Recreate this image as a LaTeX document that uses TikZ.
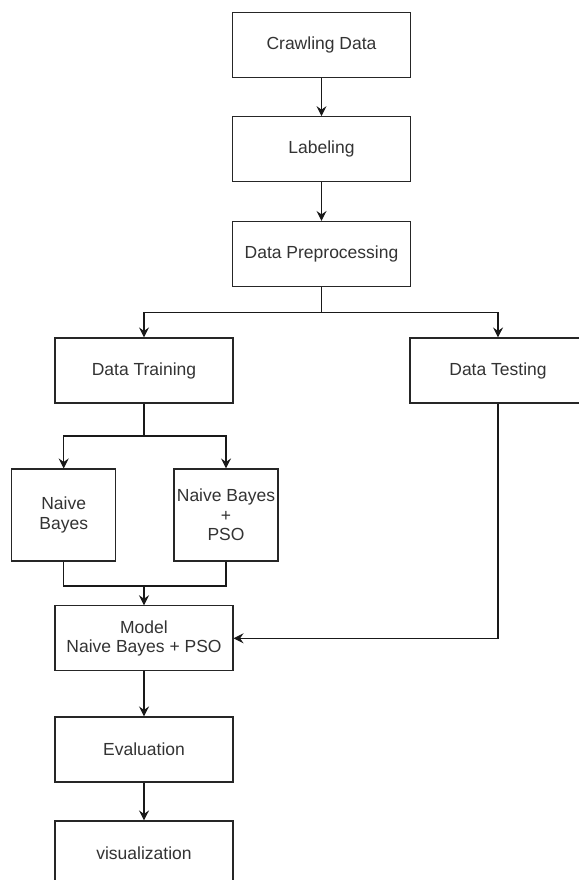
\documentclass[tikz,border=0pt]{standalone}
\usepackage{fontspec}
\setmainfont{Liberation Sans}
\usetikzlibrary{arrows.meta}
\begin{document}
\begin{tikzpicture}[x=1pt,y=-1pt,
  box/.style={draw=black!85,line width=1.1pt,fill=white,inner sep=0pt,
    minimum width=178pt,minimum height=65pt,align=center,
    text=black!80,font=\fontsize{17.5}{19.5}\selectfont},
  smallbox/.style={box,minimum width=104pt,minimum height=92pt},
  conn/.style={draw=black!90,line width=1.1pt},
  arr/.style={conn,-{Stealth[length=10pt,width=10pt,inset=3.5pt]}}]
\useasboundingbox (0,0) rectangle (578,880);
\fill[white] (0,0) rectangle (578,880);
\node[box] (crawl) at (321.5,45.2) {Crawling Data};
\node[box] (label) at (321.5,149.2) {Labeling};
\node[box] (prep) at (321.5,254) {Data Preprocessing};
\node[box] (train) at (144,370.5) {Data Training};
\node[box,minimum width=176pt] (test) at (498,370.5) {Data Testing};
\node[smallbox] (nb) at (63.7,515) {Naive\\Bayes};
\node[smallbox] (nbpso) at (226,515) {Naive Bayes\\+\\PSO};
\node[box] (model) at (144,638.3) {Model\\Naive Bayes + PSO};
\node[box] (eval) at (144,749.5) {Evaluation};
\node[box] (vis) at (144,853.5) {visualization};
\coordinate (split1) at (321.5,312.3);
\coordinate (split2) at (144,436);
\coordinate (merge) at (144,586);
\draw[arr] (crawl) -- (label);
\draw[arr] (label) -- (prep);
\draw[conn] (prep.south) -- (split1);
\draw[arr] (split1) -| (train.north);
\draw[arr] (split1) -| (test.north);
\draw[conn] (train.south) -- (split2);
\draw[arr] (split2) -| (nb.north);
\draw[arr] (split2) -| (nbpso.north);
\draw[conn] (nb.south) |- (merge);
\draw[conn] (nbpso.south) |- (merge);
\draw[arr] (merge) -- (model.north);
\draw[arr] (test.south) |- (model.east);
\draw[arr] (model) -- (eval);
\draw[arr] (eval) -- (vis);
\end{tikzpicture}
\end{document}
